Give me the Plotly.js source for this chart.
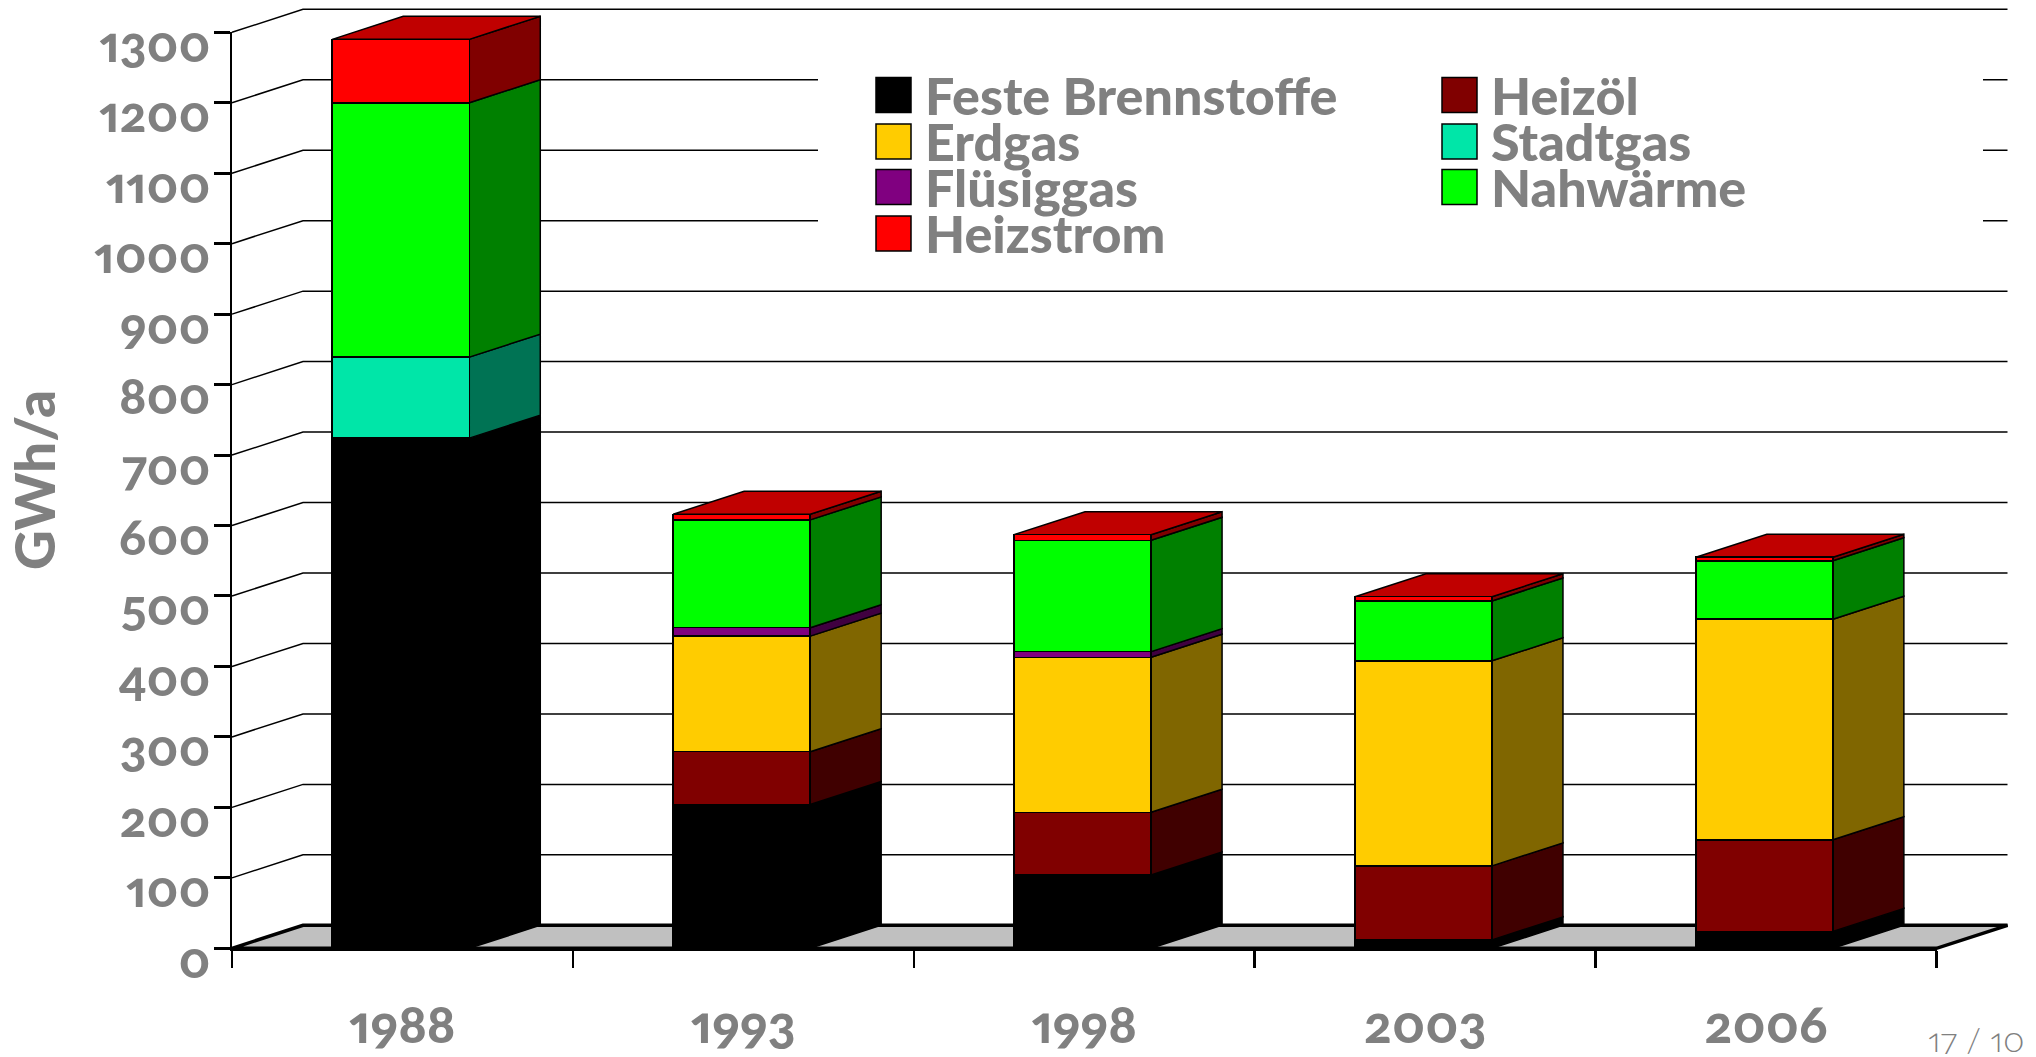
<!DOCTYPE html>
<html>
<head>
<meta charset="utf-8">
<script src="https://cdn.plot.ly/plotly-3.0.1.min.js"></script>
<style>
html,body{margin:0;padding:0;background:#fff}
svg text{font-feature-settings:"onum" 1,"pnum" 1}
</style>
</head>
<body>
<div id="chart" style="width:2036px;height:1057px"></div>
<script>
const years = ['1988','1993','1998','2003','2006'];
const festeBrennstoffe = [724,204,104,12,24];
const heizoel = [0,75,89,105,130];
const erdgas = [0,164,220,291,313];
const fluessiggas = [0,12,8,0,0];
const stadtgas = [115,0,0,0,0];
const nahwaerme = [361,153,158,85,83];
const heizstrom = [90,8,8,6,5];
const seriesNames = ['Feste Brennstoffe','Heizöl','Erdgas','Flüsiggas','Stadtgas','Nahwärme','Heizstrom'];
const seriesValues = [festeBrennstoffe,heizoel,erdgas,fluessiggas,stadtgas,nahwaerme,heizstrom];
const frontColors = ['#000000','#800000','#FFCC00','#800080','#00E6A8','#00FF00','#FF0000'];
const sideColors = ['#000000','#400000','#806600','#400040','#007354','#008000','#800000'];
const topColor = '#C00000';
const floorColor = '#C0C0C0';
const yTicks = [0,100,200,300,400,500,600,700,800,900,1000,1100,1200,1300];
const legendOrder = [[0,0],[2,0],[3,0],[6,0],[1,1],[4,1],[5,1]];

const W=2036,H=1057,L=232,R=1936.5,T=32.3,B=948.3;
const PL=224,PR=2014,PT=4,PB=956;
const UX=(R-L)/5, UY=(B-T)/1300;
const DX=71/UX, DY=23/UY, BW=0.402, SHIFT=-0.005, GREY='#808080';
const FONT='Lato';
const traces=[];

const gx=[],gy=[];
yTicks.forEach(v=>{gx.push(-0.5,-0.5+DX,4.5+DX,null);gy.push(v,v+DY,v+DY,null);});
traces.push({type:'scatter',mode:'lines',x:gx,y:gy,hoverinfo:'skip',showlegend:false,name:'Gitter',line:{color:'#000',width:1.5}});
traces.push({type:'scatter',mode:'lines',x:[-0.5,-0.5+DX,4.5+DX,4.5,-0.5],y:[0,DY,DY,0,0],fill:'toself',fillcolor:floorColor,hoverinfo:'skip',showlegend:false,name:'Boden',line:{color:'#000',width:3.5}});

const cum=years.map(()=>0);
seriesValues.forEach((vals,s)=>{
  const xs=[],ys=[];
  vals.forEach((v,i)=>{
    if(v>0){
      const a=i+SHIFT+BW/2;
      xs.push(a,a+DX,a+DX,a,a,null);
      ys.push(cum[i],cum[i]+DY,cum[i]+v+DY,cum[i]+v,cum[i],null);
    }
    cum[i]+=v;
  });
  traces.push({type:'scatter',mode:'lines',x:xs,y:ys,fill:'toself',fillcolor:sideColors[s],hoverinfo:'skip',showlegend:false,name:seriesNames[s]+' Seite',line:{color:'#000',width:1.5}});
});
const tx=[],ty=[];
cum.forEach((c,i)=>{const a=i+SHIFT-BW/2,b=i+SHIFT+BW/2;tx.push(a,a+DX,b+DX,b,a,null);ty.push(c,c+DY,c+DY,c,c,null);});
traces.push({type:'scatter',mode:'lines',x:tx,y:ty,fill:'toself',fillcolor:topColor,hoverinfo:'skip',showlegend:false,name:'Deckfläche',line:{color:'#000',width:1.5}});
seriesValues.forEach((vals,s)=>{
  traces.push({type:'bar',x:years,y:vals,width:BW,offset:SHIFT-BW/2,name:seriesNames[s],xaxis:'x2',yaxis:'y2',marker:{color:frontColors[s],line:{color:'#000',width:1.5}},showlegend:false});
});

const ox=x=>(x-PL)/(PR-PL), oy=y=>(PB-y)/(PB-PT);
const shapes=[{type:'rect',layer:'above',xref:'paper',yref:'paper',x0:ox(818),x1:ox(1983),y0:oy(270),y1:oy(20),fillcolor:'#fff',line:{width:0}}];
const annotations=[];
const rowY=[77.5,124,169.5,216], colX=[876,1442];
legendOrder.forEach(([s,c])=>{
  const col=colX[c], row=rowY[c===0?[0,2,3,6].indexOf(s):[1,4,5].indexOf(s)];
  shapes.push({type:'rect',layer:'above',xref:'paper',yref:'paper',x0:ox(col),x1:ox(col+35),y0:oy(row+35),y1:oy(row),fillcolor:frontColors[s],line:{color:'#000',width:1.5}});
  annotations.push({xref:'paper',yref:'paper',x:ox(col+47),y:oy(row+17),xanchor:'left',yanchor:'middle',showarrow:false,text:seriesNames[s],font:{family:FONT,size:52,color:GREY,weight:900}});
});
annotations.push({xref:'paper',yref:'paper',x:ox(2026),y:oy(1056),xanchor:'right',yanchor:'bottom',height:32,showarrow:false,text:'17 / 10',font:{family:FONT,size:34,color:GREY,weight:300}});

Plotly.newPlot('chart',traces,{
  width:W,height:H,autosize:false,showlegend:false,barmode:'stack',
  paper_bgcolor:'#fff',plot_bgcolor:'rgba(0,0,0,0)',
  margin:{l:PL,r:W-PR,t:PT,b:H-PB,pad:0},
  xaxis:{type:'linear',range:[-0.5+(PL-L)/UX,-0.5+(PR-L)/UX],showline:false,showticklabels:false,ticks:'',showgrid:false,zeroline:false,fixedrange:true},
  yaxis:{range:[(B-PB)/UY,(B-PT)/UY],showline:false,showticklabels:false,ticks:'',showgrid:false,zeroline:false,fixedrange:true,
    title:{text:'GWh/a',font:{family:FONT,size:55,color:GREY,weight:900},standoff:149}},
  xaxis2:{type:'category',domain:[ox(L),ox(R)],anchor:'y2',side:'bottom',range:[-0.5,4.5],categoryorder:'array',categoryarray:years,tickson:'boundaries',
    showline:true,linecolor:'#000',linewidth:3,ticks:'outside',ticklen:17,tickwidth:2.5,tickcolor:'#000',showgrid:false,zeroline:false,ticklabelstandoff:29,
    tickfont:{family:FONT,size:52,color:GREY,weight:900},fixedrange:true},
  yaxis2:{domain:[oy(B),oy(T)],anchor:'x2',range:[0,1300],tickmode:'array',tickvals:yTicks,ticktext:yTicks.map(String),showline:true,linecolor:'#000',linewidth:2.5,ticks:'outside',ticklen:16,tickwidth:3,tickcolor:'#000',showgrid:false,zeroline:false,ticklabelshift:12,ticklabelstandoff:-7,ticklabeloverflow:'allow',
    tickfont:{family:FONT,size:50,color:GREY,weight:900},fixedrange:true},
  shapes,annotations
},{displayModeBar:false,staticPlot:true}).then(()=>{
  document.querySelectorAll('svg text').forEach(t=>{
    t.style.setProperty('font-variant-numeric','normal','important');
    t.style.setProperty('font-feature-settings','"onum" 1,"pnum" 1','important');
  });
});
</script>
</body>
</html>
